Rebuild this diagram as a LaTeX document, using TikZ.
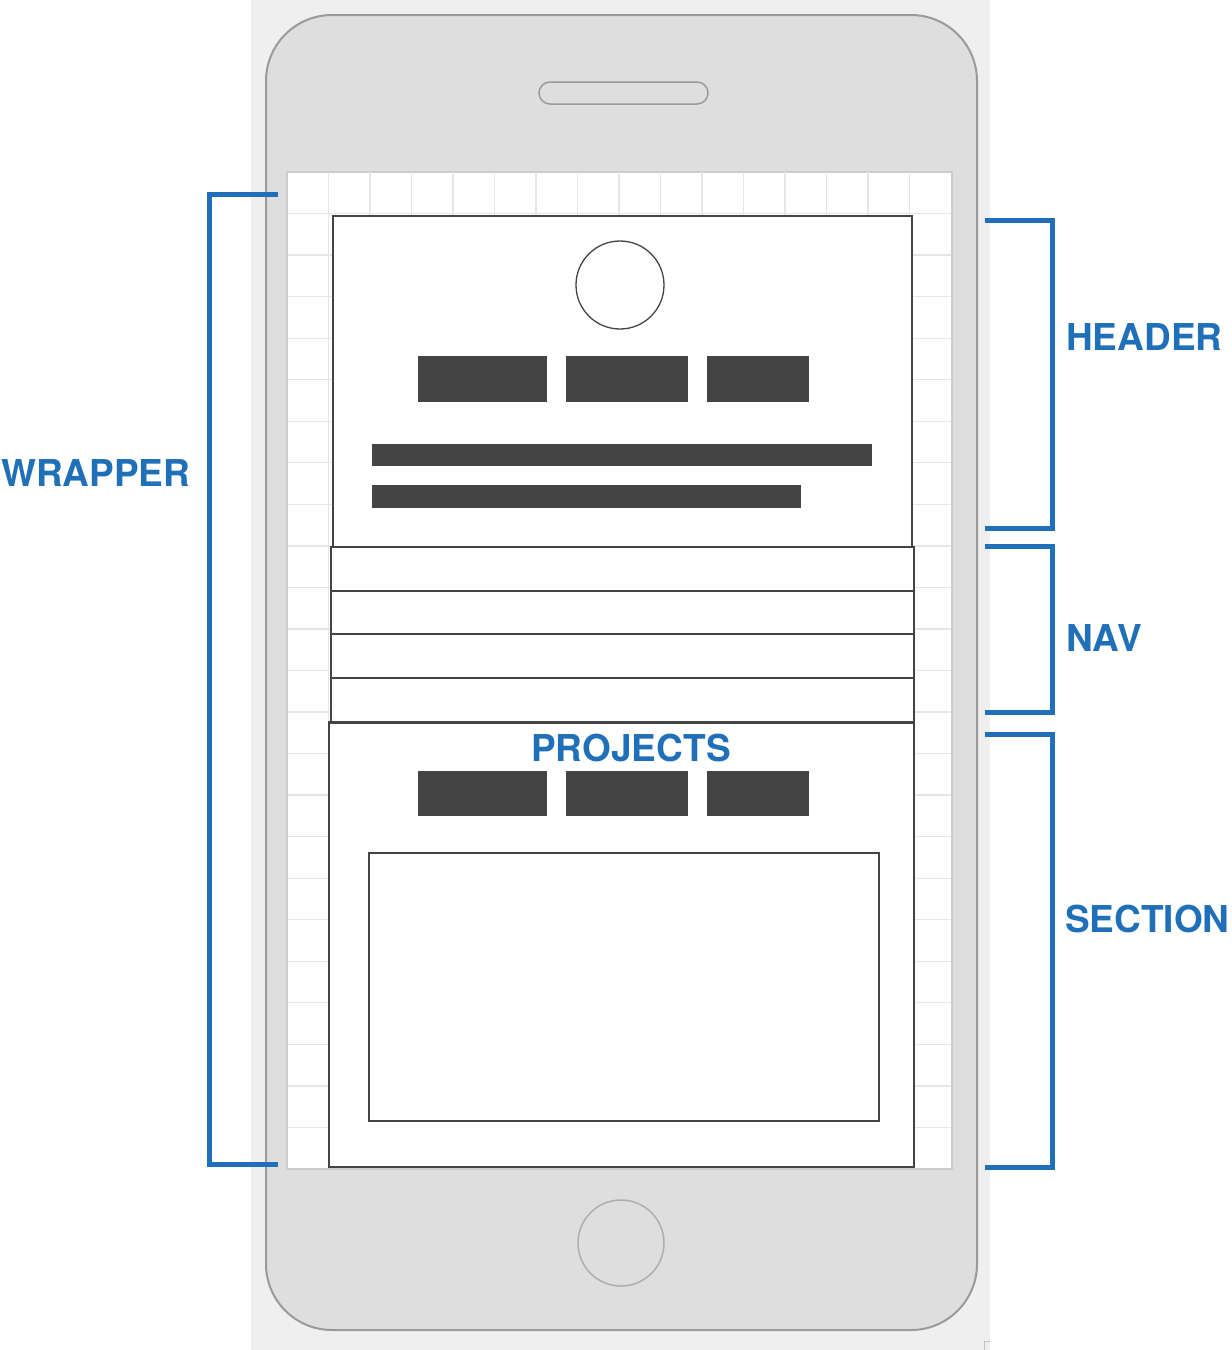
\documentclass[tikz,border=0pt]{standalone}
\usepackage{fontspec}
\setmainfont{TeX Gyre Heros}
\definecolor{pagebg}{HTML}{EFEFEF}
\definecolor{body}{HTML}{DEDEDE}
\definecolor{bodyline}{HTML}{9A9A9A}
\definecolor{gridline}{HTML}{E6E6E6}
\definecolor{ink}{HTML}{444444}
\definecolor{accent}{HTML}{1F70B8}
\begin{document}
\begin{tikzpicture}[x=1pt,y=-1pt,
  box/.style={draw=ink,line width=2pt,fill=white},
  darkblock/.style={fill=ink,inner sep=0pt,draw=none},
  brace/.style={draw=accent,line width=5pt,line join=miter},
  tag/.style={text=accent,font=\bfseries\fontsize{37}{40}\selectfont,inner sep=0pt}]

\useasboundingbox (0,0) rectangle (1232,1350);
\fill[white] (0,0) rectangle (1232,1350);

% page strip behind the device
\fill[pagebg] (251,0) rectangle (990,1350);
\draw[bodyline!60,line width=1pt] (984,1350) -- (984,1341) -- (990,1341);

% device body, speaker and home button
\draw[bodyline,line width=2pt,fill=body,rounded corners=66pt] (266,15) rectangle (977,1330);
\draw[bodyline,line width=1.5pt,fill=body,rounded corners=11pt] (539,82) rectangle (708,104);
\node[circle,draw=bodyline!80,line width=1.5pt,minimum size=86pt,inner sep=0pt] (home) at (621,1243) {};

% screen with layout grid
\draw[draw=black!20,line width=1.5pt,fill=white] (287,172) rectangle (952,1169);
\foreach \i in {1,...,15}
  \draw[gridline,line width=1.3pt] ({287+41.5*\i},172) -- ({287+41.5*\i},1168);
\foreach \j in {1,...,23}
  \draw[gridline,line width=1.3pt] (288,{172+41.54*\j}) -- (951,{172+41.54*\j});

% header
\draw[box] (333,216) rectangle (912,547);
\node[circle,draw=ink,line width=1.3pt,fill=white,minimum size=88pt,inner sep=0pt] (avatar) at (620,285) {};
\node[darkblock,minimum width=129pt,minimum height=46pt] (hb1) at (482.5,379) {};
\node[darkblock,minimum width=122pt,minimum height=46pt] (hb2) at (627,379) {};
\node[darkblock,minimum width=102pt,minimum height=46pt] (hb3) at (758,379) {};
\node[darkblock,minimum width=500pt,minimum height=22pt] (line1) at (622,455) {};
\node[darkblock,minimum width=429pt,minimum height=23pt] (line2) at (586.5,496.5) {};

% navigation rows
\draw[box] (331,547) rectangle (914,591);
\draw[box] (331,591) rectangle (914,634);
\draw[box] (331,634) rectangle (914,678);
\draw[box] (331,678) rectangle (914,722);

% projects section
\draw[box] (329,722) rectangle (914,1167);
\draw[ink,line width=3pt] (329,722) -- (914,722);
\node[tag] (projects) at (631,748) {PROJECTS};
\node[darkblock,minimum width=129pt,minimum height=45pt] (sb1) at (482.5,793.5) {};
\node[darkblock,minimum width=122pt,minimum height=45pt] (sb2) at (627,793.5) {};
\node[darkblock,minimum width=102pt,minimum height=45pt] (sb3) at (758,793.5) {};
\draw[box] (369,853) rectangle (879,1121);

% brackets
\coordinate (wt) at (278,194);
\coordinate (wb) at (278,1164);
\draw[brace] (wt) -- (209,194) -- (209,1164) -- (wb);
\node[tag,anchor=west] (wrapper) at (1,473) {WRAPPER};

\coordinate (ht) at (985,220);
\coordinate (hb) at (985,528);
\draw[brace] (ht) -- (1052,220) -- (1052,528) -- (hb);
\node[tag,anchor=west] (header) at (1066,337) {HEADER};

\coordinate (nt) at (985,546);
\coordinate (nb) at (985,712);
\draw[brace] (nt) -- (1052,546) -- (1052,712) -- (nb);
\node[tag,anchor=west] (nav) at (1066,638) {NAV};

\coordinate (st) at (985,734);
\coordinate (sb) at (985,1167);
\draw[brace] (st) -- (1052,734) -- (1052,1167) -- (sb);
\node[tag,anchor=west] (section) at (1065,919) {SECTION};

\end{tikzpicture}
\end{document}
